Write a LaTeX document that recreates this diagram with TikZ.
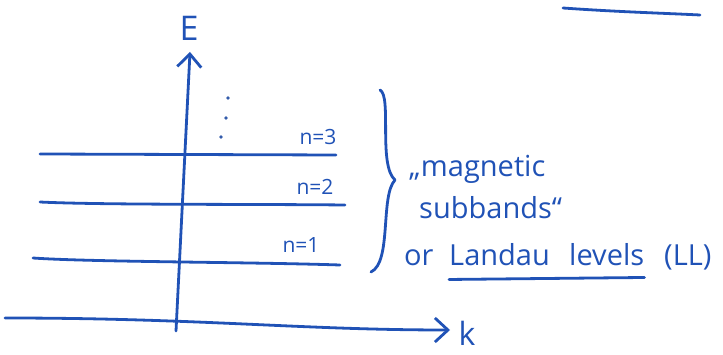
\documentclass[tikz,border=0pt]{standalone}
\usepackage{fontspec}
\setmainfont{Open Sans}
\usepackage{xcolor}
\usepackage{tikz}
\usetikzlibrary{positioning,arrows.meta,calc}
\definecolor{ink}{RGB}{32,82,182}

\begin{document}
\begin{tikzpicture}[x=1pt, y=-1pt,
  ink/.style={draw=ink, line width=2.8pt, line cap=round, line join=round},
  axis/.style={ink, -{Straight Barb[length=13pt, width=24pt, line width=2.8pt]}},
  level/.style={ink},
  nlab/.style={text=ink, font=\fontsize{21}{23}\selectfont, inner sep=0pt},
  note/.style={text=ink, font=\fontsize{29}{32}\selectfont, inner sep=0pt, anchor=base west}]
  \useasboundingbox (0,0) rectangle (723,355);
  % axes
  \coordinate (origin) at (176,331);
  \coordinate (etop) at (190,52);
  \coordinate (kleft) at (5,318);
  \coordinate (kright) at (450,330);
  \draw[axis] (origin) -- (etop);
  \draw[axis] (kleft) .. controls (200,318) and (300,330) .. (kright);
  \node[text=ink, font=\fontsize{34}{36}\selectfont, inner sep=0pt] (E) at (189,28) {E};
  \node[text=ink, font=\fontsize{32}{34}\selectfont, inner sep=0pt] (k) at (467,333) {k};
  % levels
  \coordinate (l3w) at (40,154);  \coordinate (l3e) at (336,155);
  \coordinate (l2w) at (40,202);  \coordinate (l2e) at (345,205);
  \coordinate (l1w) at (33,258);  \coordinate (l1e) at (340,265);
  \draw[level] (l3w) -- (l3e);
  \draw[level] (l2w) .. controls (100,205) and (250,204) .. (l2e);
  \draw[level] (l1w) .. controls (90,262) and (250,262) .. (l1e);
  \node[nlab] (n3) at (318,137) {n=3};
  \node[nlab] (n2) at (315,187) {n=2};
  \node[nlab] (n1) at (301,245) {n=1};
  % higher levels
  \foreach \px/\py in {228/98, 226/118, 221/137}
    \fill[ink!80!gray] (\px,\py) circle (1.8pt);
  % brace
  \draw[ink] (380,90) .. controls (392,96) and (378,165) .. (395,180)
    .. controls (380,196) and (392,262) .. (371,272);
  % notes
  \node[note] (mag) at (409,177) {„magnetic};
  \node[note] (sub) at (419,219) {subbands“};
  \node[note] (or) at (404,266) {or};
  \node[note] (landau) at (449,266) {Landau};
  \node[note] (levels) at (569,266) {levels};
  \node[note] (LL) at (664,266) {(LL)};
  \coordinate (ulw) at ($(landau.south west)+(0,13)$);
  \coordinate (ule) at ($(levels.south east)+(0,11)$);
  \draw[ink] (ulw) -- (ule);
  % cut-off underline at the top
  \coordinate (topw) at (563,8);
  \coordinate (tope) at (700,15);
  \draw[ink] (topw) .. controls (620,12) and (660,13) .. (tope);
\end{tikzpicture}
\end{document}
